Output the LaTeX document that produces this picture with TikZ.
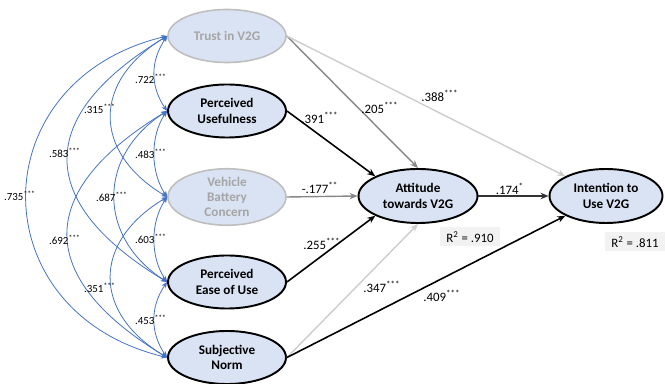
\documentclass[tikz,border=0pt]{standalone}
\usepackage{fontspec}
\setmainfont{Carlito}
\usepackage{tikz}
\usetikzlibrary{arrows.meta, positioning, shapes.geometric}

\definecolor{latfill}{RGB}{218,227,243}
\definecolor{latgray}{RGB}{190,190,190}
\definecolor{txtgray}{RGB}{165,165,165}
\definecolor{covblue}{RGB}{68,114,196}
\definecolor{pathgray}{RGB}{135,135,135}
\definecolor{pathlight}{RGB}{205,205,205}
\definecolor{rbox}{RGB}{242,242,242}

\begin{document}
\begin{tikzpicture}[
  x=1cm, y=1cm,
  latent/.style={
    ellipse, fill=latfill, draw=black, line width=1.1pt,
    align=center, inner sep=0pt, minimum width=2.36cm, minimum height=1.06cm,
    font=\fontsize{7.5}{8.7}\selectfont\bfseries
  },
  latentgray/.style={
    latent, draw=latgray, line width=0.9pt, text=txtgray
  },
  cov/.style={
    {Stealth[length=1.2mm, width=1mm]}-{Stealth[length=1.2mm, width=1mm]},
    draw=covblue, line width=0.45pt
  },
  path/.style={
    -{Stealth[length=1.6mm, width=1.3mm]},
    draw=black, line width=0.9pt
  },
  coeff/.style={font=\fontsize{7.3}{8}\selectfont, inner sep=1pt},
  covlab/.style={font=\fontsize{6.2}{7}\selectfont, inner sep=0pt},
  rsq/.style={fill=rbox, font=\fontsize{7.3}{8}\selectfont,
    minimum width=1.2cm, minimum height=0.38cm, inner sep=0pt}
]
\useasboundingbox (0,0) rectangle (13.3,7.68);

% ----- Latent constructs -----
\node[latentgray] (trust) at (4.54, 6.96) {Trust in V2G};
\node[latent]     (pu)    at (4.54, 5.46) {Perceived\\Usefulness};
\node[latentgray] (vbc)   at (4.54, 3.74) {Vehicle\\Battery\\Concern};
\node[latent]     (peu)   at (4.54, 2.04) {Perceived\\Ease of Use};
\node[latent]     (sn)    at (4.54, 0.53) {Subjective\\Norm};
\node[latent, minimum width=2.38cm, minimum height=1.08cm] (att) at (8.36, 3.76)
  {Attitude\\towards V2G};
\node[latent, minimum width=2.26cm, minimum height=1.08cm] (intent) at (12.12, 3.76)
  {Intention to\\Use V2G};

\node[rsq] (r2att) at (9.40, 2.94) {R\textsuperscript{2} = .910};
\node[rsq] (r2int) at (12.70, 2.84) {R\textsuperscript{2} = .811};

% ----- Covariances -----
\draw[cov] (trust.west) .. controls +(-0.34,-0.5) and +(-0.34,0.5) .. (pu.west);
\draw[cov] (pu.west)    .. controls +(-0.34,-0.5) and +(-0.34,0.5) .. (vbc.west);
\draw[cov] (vbc.west)   .. controls +(-0.34,-0.5) and +(-0.34,0.5) .. (peu.west);
\draw[cov] (peu.west)   .. controls +(-0.34,-0.5) and +(-0.34,0.5) .. (sn.west);
\draw[cov] (trust.west) .. controls +(-1.5,-0.9) and +(-1.5,0.9) .. (vbc.west);
\draw[cov] (pu.west)    .. controls +(-1.4,-0.9) and +(-1.4,0.9) .. (peu.west);
\draw[cov] (vbc.west)   .. controls +(-1.5,-0.9) and +(-1.5,0.9) .. (sn.west);
\draw[cov] (trust.west) .. controls +(-2.65,-1.6) and +(-2.65,1.6) .. (peu.west);
\draw[cov] (pu.west)    .. controls +(-2.65,-1.6) and +(-2.65,1.6) .. (sn.west);
\draw[cov] (trust.west) .. controls +(-3.75,-0.9) and +(-3.75,0.9) .. (sn.west);

\node[covlab] at (3.02, 6.10) {.722\textsuperscript{***}};
\node[covlab] at (3.02, 4.60) {.483\textsuperscript{***}};
\node[covlab] at (3.02, 2.90) {.603\textsuperscript{***}};
\node[covlab] at (3.02, 1.28) {.453\textsuperscript{***}};
\node[covlab] at (2.00, 5.50) {.315\textsuperscript{***}};
\node[covlab] at (2.24, 3.74) {.687\textsuperscript{***}};
\node[covlab] at (2.00, 1.92) {.351\textsuperscript{***}};
\node[covlab] at (1.30, 4.62) {.583\textsuperscript{***}};
\node[covlab] at (1.30, 2.88) {.692\textsuperscript{***}};
\node[covlab] at (0.40, 3.76) {.735\textsuperscript{***}};

% ----- Structural paths -----
\draw[path, draw=pathgray, line width=0.8pt] (trust.east) -- (att.north);
\draw[path, draw=pathlight, line width=0.8pt] (trust.east) -- (intent.north west);
\draw[path] (pu.east) -- (att.north west);
\draw[path, draw=pathgray, line width=0.8pt] (vbc.east) -- (att.west);
\draw[path] (peu.east) -- (att.south west);
\draw[path, draw=pathlight, line width=0.8pt] (sn.east) -- (att.south);
\draw[path] (sn.east) -- (intent.south west);
\draw[path, draw=black!80] (att.east) -- (intent.west);

\node[coeff] at (7.60, 5.52) {.205\textsuperscript{***}};
\node[coeff] at (8.80, 5.76) {.388\textsuperscript{***}};
\node[coeff] at (6.40, 5.32) {.391\textsuperscript{***}};
\node[coeff] at (6.40, 3.92) {-.177\textsuperscript{**}};
\node[coeff] at (6.44, 2.80) {.255\textsuperscript{***}};
\node[coeff] at (7.64, 1.94) {.347\textsuperscript{***}};
\node[coeff] at (8.84, 1.76) {.409\textsuperscript{***}};
\node[coeff] at (10.20, 3.90) {.174\textsuperscript{*}};

\end{tikzpicture}
\end{document}
